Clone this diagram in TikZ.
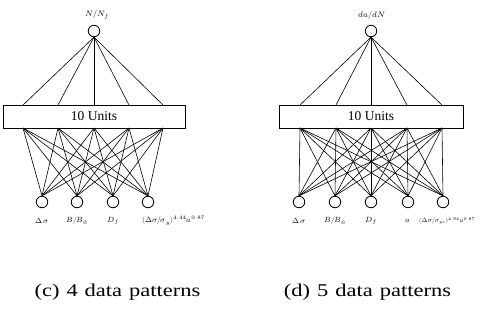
\documentclass[tikz,border=0pt]{standalone}
\usepackage{fontspec}
\setmainfont{Liberation Serif}
\usepackage{unicode-math}
\setmathfont{Latin Modern Math}
\begin{document}
\begin{tikzpicture}[x=1pt,y=-1pt,
  neuron/.style={circle,draw,line width=0.8pt,minimum size=11.5pt,inner sep=0pt},
  unitbox/.style={draw,line width=0.8pt,minimum height=23pt,inner sep=0pt,font=\fontsize{13.5}{15}\selectfont},
  link/.style={line width=0.6pt},
  inlabel/.style={font=\fontsize{7.5}{8}\selectfont\boldmath,inner sep=0pt},
  outlabel/.style={font=\fontsize{8}{9}\selectfont\boldmath,inner sep=0pt},
  caption/.style={font=\fontsize{18}{20}\selectfont,inner sep=0pt}]
\useasboundingbox (0,0) rectangle (480,327);
% ---------- left network ----------
\node[neuron] (oL) at (94,31) {};
\node[outlabel] (oLl) at (97,15) {$N/N_f$};
\node[unitbox,minimum width=182pt] (bL) at (94,116.5) {10 Units};
\foreach \i/\x in {1/23,2/58,3/94,4/129,5/163}{
  \coordinate (tL\i) at (\x,105);
  \coordinate (uL\i) at (\x,128);
  \draw[link] (oL.south) -- (tL\i);
}
\foreach \j/\x in {1/42,2/77,3/113,4/148}{
  \node[neuron] (iL\j) at (\x,202) {};
  \foreach \i in {1,...,5}{\draw[link] (uL\i) -- (iL\j.north);}
}
\node[inlabel] at (42,221) {$\Delta\sigma$};
\node[inlabel] at (77,221) {$B/B_0$};
\node[inlabel] at (113,221) {$D_f$};
\node[inlabel,anchor=west] at (142,221) {$(\Delta\sigma/\sigma_{y})^{4.44}a^{0.87}$};
% ---------- right network ----------
\node[neuron] (oR) at (371,31) {};
\node[outlabel] (oRl) at (372,15) {$da/dN$};
\node[unitbox,minimum width=184pt] (bR) at (371,116.5) {10 Units};
\foreach \i/\x in {1/300,2/336,3/371,4/407,5/442}{
  \coordinate (tR\i) at (\x,105);
  \coordinate (uR\i) at (\x,128);
  \draw[link] (oR.south) -- (tR\i);
}
\foreach \j/\x in {1/299,2/335,3/371,4/408,5/443}{
  \node[neuron] (iR\j) at (\x,202) {};
  \foreach \i in {1,...,5}{\draw[link] (uR\i) -- (iR\j.north);}
}
\node[inlabel] at (299,221) {$\Delta\sigma$};
\node[inlabel] at (335,221) {$B/B_0$};
\node[inlabel] at (371,221) {$D_f$};
\node[inlabel] at (408,221) {$a$};
\node[inlabel,anchor=west,font=\fontsize{6.3}{7}\selectfont\boldmath] at (419,221) {$(\Delta\sigma/\sigma_{yc})^{4.94}a^{0.87}$};
% ---------- captions ----------
\node[caption] (cL) at (117.5,292) {\scalebox{1.25}[1]{(c)\hspace{0.31em}4\hspace{0.31em}data\hspace{0.31em}patterns}};
\node[caption] (cR) at (367.5,292) {\scalebox{1.25}[1]{(d)\hspace{0.31em}5\hspace{0.31em}data\hspace{0.31em}patterns}};
\end{tikzpicture}
\end{document}
